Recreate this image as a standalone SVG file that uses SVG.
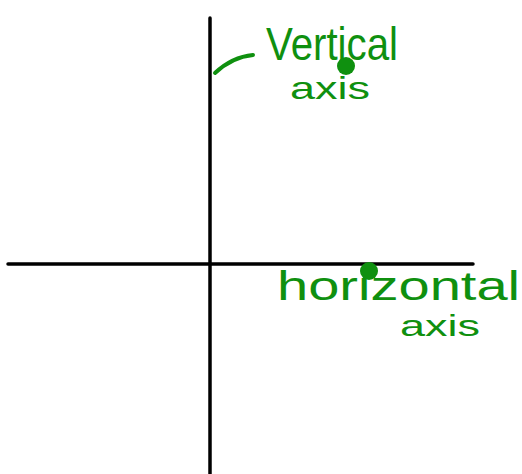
<svg xmlns="http://www.w3.org/2000/svg" width="522" height="474" viewBox="0 0 522 474">
<style>
.axis{stroke:#000;stroke-width:3.5;stroke-linecap:round;fill:none}
.lbl{fill:#0f900f;font-family:"Liberation Sans","DejaVu Sans",sans-serif;}
.dot{fill:#0f900f}
.ptr{stroke:#0f900f;stroke-width:4;stroke-linecap:round;fill:none}
</style>
<rect width="522" height="474" fill="#fff"/>
<g id="connectors">
<line class="axis" x1="210" y1="18" x2="210" y2="474"/>
<line class="axis" x1="8" y1="264" x2="473" y2="264"/>
<path class="ptr" d="M215,73 Q232,57 253,55"/>
</g>
<g id="vertical-label">
<text class="lbl" x="266" y="60" font-size="46" textLength="132" lengthAdjust="spacingAndGlyphs">Vertical</text>
<text class="lbl" x="290" y="99" font-size="32" textLength="80" lengthAdjust="spacingAndGlyphs">axis</text>
<circle class="dot" cx="346" cy="66" r="9"/>
</g>
<g id="horizontal-label">
<text class="lbl" x="277" y="300" font-size="40" textLength="243" lengthAdjust="spacingAndGlyphs">horizontal</text>
<text class="lbl" x="400" y="336" font-size="30" textLength="80" lengthAdjust="spacingAndGlyphs">axis</text>
<circle class="dot" cx="369" cy="271" r="9"/>
</g>
</svg>
